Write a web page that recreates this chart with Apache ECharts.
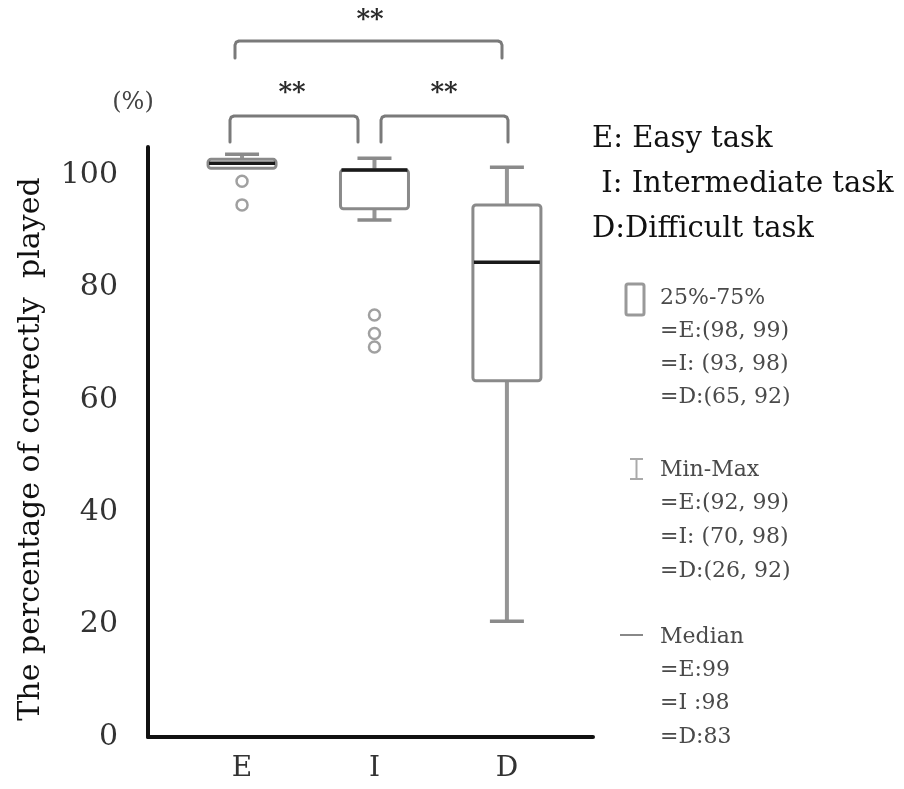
<!DOCTYPE html>
<html><head><meta charset="utf-8">
<script src="https://cdn.jsdelivr.net/npm/echarts@6/dist/echarts.min.js"></script>
<style>html,body{margin:0;padding:0;background:#fff}#c{width:904px;height:789px}</style>
</head><body><div id="c"></div>
<script>
// ---- data ----
const categories = ['E', 'I', 'D'];
const categoryPos = [1, 2, 3];
const minVals = [101.2, 92.0, 20.6];
const q1Vals = [101.2, 94.0, 63.4];
const medianVals = [102.1, 100.9, 84.5];
const q3Vals = [102.8, 100.9, 94.7];
const maxVals = [103.7, 103.0, 101.4];
const outliersE = [98.9, 94.7];
const outliersI = [75.1, 71.8, 69.4];
const yTicks = [0, 20, 40, 60, 80, 100];
const yAxisTitle = 'The percentage of correctly  played';
const unitLabel = '(%)';
const taskLabels = ['E: Easy task', ' I: Intermediate task', 'D:Difficult task'];
const iqrLines = ['25%-75%', '=E:(98, 99)', '=I: (93, 98)', '=D:(65, 92)'];
const rangeLines = ['Min-Max', '=E:(92, 99)', '=I: (70, 98)', '=D:(26, 92)'];
const medianLines = ['Median', '=E:99', '=I :98', '=D:83'];
const sigMark = '**';

// ---- build ----
const FONT = '"DejaVu Serif", "Liberation Serif", serif';
const boxData = categoryPos.map((x, i) => [x, minVals[i], q1Vals[i], medianVals[i], q3Vals[i], maxVals[i]]);
const outlierData = [
  ...outliersE.map(v => [categoryPos[0], v]),
  ...outliersI.map(v => [categoryPos[1], v])
];

const BOX_W = 68, CAP_W = 34;
const GREY = '#8a8a8a';

function renderBox(params, api) {
  const x = api.value(0);
  const pMin = api.coord([x, api.value(1)]);
  const pQ1 = api.coord([x, api.value(2)]);
  const pMed = api.coord([x, api.value(3)]);
  const pQ3 = api.coord([x, api.value(4)]);
  const pMax = api.coord([x, api.value(5)]);
  const cx = pQ1[0];
  const children = [];
  const ws = { stroke: '#959595', lineWidth: 4 };
  children.push({ type: 'line', shape: { x1: cx, y1: pMax[1], x2: cx, y2: pQ3[1] }, style: ws });
  children.push({ type: 'line', shape: { x1: cx - CAP_W / 2, y1: pMax[1], x2: cx + CAP_W / 2, y2: pMax[1] }, style: { stroke: GREY, lineWidth: 3.5 } });
  if (pMin[1] - pQ1[1] > 1) {
    children.push({ type: 'line', shape: { x1: cx, y1: pQ1[1], x2: cx, y2: pMin[1] }, style: ws });
    children.push({ type: 'line', shape: { x1: cx - CAP_W / 2, y1: pMin[1], x2: cx + CAP_W / 2, y2: pMin[1] }, style: { stroke: GREY, lineWidth: 3.5 } });
  }
  children.push({ type: 'rect', shape: { x: cx - BOX_W / 2, y: pQ3[1], width: BOX_W, height: pQ1[1] - pQ3[1], r: 3 },
    style: { fill: '#fff', stroke: GREY, lineWidth: 3 } });
  children.push({ type: 'line', shape: { x1: cx - BOX_W / 2 + 1, y1: pMed[1], x2: cx + BOX_W / 2 - 1, y2: pMed[1] },
    style: { stroke: '#1a1a1a', lineWidth: 3.5 } });
  return { type: 'group', children };
}

function txt(text, x, y, font, color, align) {
  return {
    type: 'text', x: x, y: y,
    style: { text: text, font: font, fill: color,
      textAlign: align || 'left', textVerticalAlign: 'middle', align: align || 'left', verticalAlign: 'middle' }
  };
}
function bracket(x1, x2, yt, yb) {
  return { type: 'polyline',
    shape: { points: [[x1, yb], [x1, yt + 4], [x1 + 1.2, yt + 1.2], [x1 + 4, yt], [x2 - 4, yt], [x2 - 1.2, yt + 1.2], [x2, yt + 4], [x2, yb]] },
    style: { stroke: '#7a7a7a', lineWidth: 3, fill: null, lineJoin: 'round', lineCap: 'round' } };
}

const graphics = [];
graphics.push(txt(unitLabel, 133, 103, '24px ' + FONT, '#444', 'center'));
graphics.push(bracket(235, 502, 41, 58));
graphics.push(bracket(230, 358, 116, 142));
graphics.push(bracket(381, 508, 116, 142));
[[370, 20], [292, 93], [444, 93]].forEach(p => {
  graphics.push(txt(sigMark, p[0], p[1], 'bold 26px ' + FONT, '#2a2a2a', 'center'));
});
taskLabels.forEach((t, i) => graphics.push(txt(t, 592, 139 + i * 45, '29px ' + FONT, '#111', 'left')));
iqrLines.forEach((t, i) => graphics.push(txt(t, 660, 298 + i * 33, '22px ' + FONT, '#4a4a4a', 'left')));
rangeLines.forEach((t, i) => graphics.push(txt(t, 660, 470 + i * 33.7, '22px ' + FONT, '#4a4a4a', 'left')));
medianLines.forEach((t, i) => graphics.push(txt(t, 660, 637 + i * 33.3, '22px ' + FONT, '#4a4a4a', 'left')));
// legend icons
graphics.push({ type: 'rect', shape: { x: 626, y: 284, width: 18, height: 31, r: 2 }, style: { fill: '#fff', stroke: '#999', lineWidth: 3 } });
graphics.push({ type: 'line', shape: { x1: 630, y1: 459, x2: 643, y2: 459 }, style: { stroke: '#aaa', lineWidth: 2 } });
graphics.push({ type: 'line', shape: { x1: 636.5, y1: 459, x2: 636.5, y2: 479 }, style: { stroke: '#aaa', lineWidth: 2 } });
graphics.push({ type: 'line', shape: { x1: 630, y1: 479, x2: 643, y2: 479 }, style: { stroke: '#aaa', lineWidth: 2 } });
graphics.push({ type: 'line', shape: { x1: 620, y1: 635, x2: 643, y2: 635 }, style: { stroke: '#888', lineWidth: 2 } });

const chart = echarts.init(document.getElementById('c'), null, { renderer: 'canvas' });
chart.setOption({
  animation: false,
  backgroundColor: '#fff',
  grid: { left: 148, right: 311, top: 147, bottom: 52, containLabel: false },
  xAxis: {
    type: 'value', min: 0.29, max: 3.65,
    axisLine: { show: true, onZero: false, lineStyle: { color: '#111', width: 4 } },
    axisTick: { show: false },
    splitLine: { show: false },
    axisLabel: {
      customValues: categoryPos,
      formatter: v => categories[categoryPos.indexOf(v)] || '',
      margin: 18, color: '#333', fontFamily: FONT, fontSize: 28
    }
  },
  yAxis: {
    type: 'value', min: 0, max: 105,
    name: yAxisTitle, nameLocation: 'middle', nameRotate: 90, nameGap: 102,
    nameTextStyle: { fontFamily: FONT, fontSize: 30, color: '#111', padding: [0, 14, 0, 0] },
    axisLine: { show: true, onZero: false, lineStyle: { color: '#111', width: 4 } },
    axisTick: { show: false },
    splitLine: { show: false },
    axisLabel: { customValues: yTicks, margin: 30, color: '#333', fontFamily: FONT, fontSize: 30 }
  },
  series: [
    {
      type: 'custom', name: 'box', renderItem: renderBox,
      encode: { x: 0, y: [1, 2, 3, 4, 5] },
      data: boxData, z: 2
    },
    {
      type: 'scatter', name: 'outliers', data: outlierData,
      symbol: 'circle', symbolSize: 11,
      itemStyle: { color: '#fff', borderColor: '#888', borderWidth: 2.5 }, z: 3
    }
  ],
  graphic: graphics
});
</script>
</body></html>
